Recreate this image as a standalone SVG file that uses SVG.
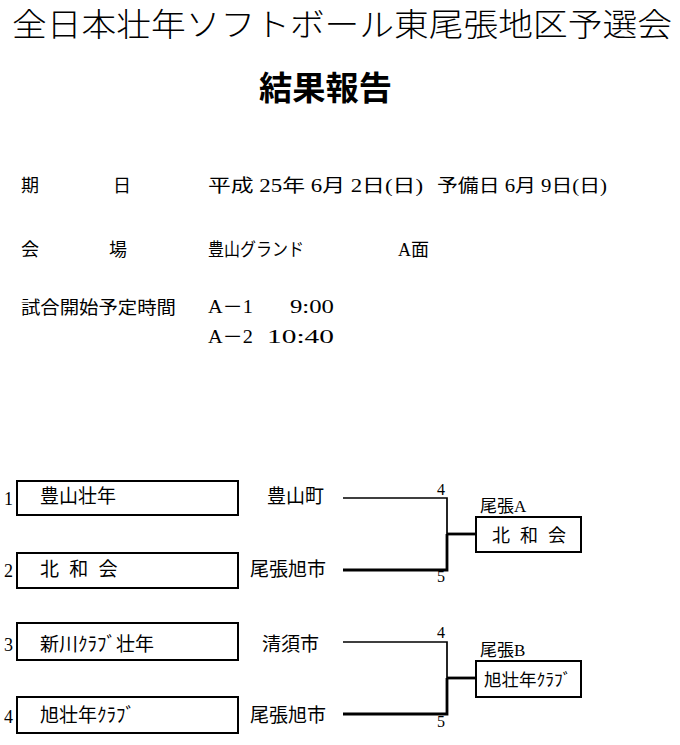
<svg xmlns="http://www.w3.org/2000/svg" width="680" height="745" viewBox="0 0 680 745">
<style>
text{font-family:'Liberation Serif','Noto Sans CJK JP',serif;fill:#000}
.jp{font-family:'Noto Sans CJK JP',sans-serif}
.inf{font-size:18px}
.bx{fill:#fff;stroke:#000;stroke-width:2}
.t19{font-size:19px}
.num{font-size:18px}
.sm{font-size:16px}
.thin{stroke:#000;stroke-width:1.7;fill:none}
.thick{stroke:#000;stroke-width:2.8;fill:none}
</style>
<rect width="680" height="745" fill="#fff"/>
<g id="title">
<text class="jp" x="12" y="36" font-size="32" font-weight="300" textLength="660" lengthAdjust="spacingAndGlyphs">全日本壮年ソフトボール東尾張地区予選会</text>
<text class="jp" x="259" y="100" font-size="33" font-weight="bold" textLength="133" lengthAdjust="spacingAndGlyphs">結果報告</text>
</g>
<g id="info">
<text class="jp inf" x="21" y="192">期</text>
<text class="jp inf" x="113" y="192">日</text>
<text class="inf" x="208" y="192" textLength="215" lengthAdjust="spacingAndGlyphs">平成 25年 6月 2日(日)</text>
<text class="inf" x="437" y="192" textLength="170" lengthAdjust="spacingAndGlyphs">予備日 6月 9日(日)</text>
<text class="jp inf" x="21" y="256">会</text>
<text class="jp inf" x="109" y="256">場</text>
<text class="jp inf" x="208" y="256" textLength="96" lengthAdjust="spacingAndGlyphs">豊山グランド</text>
<text class="inf" x="398" y="256">A面</text>
<text class="jp inf" x="21" y="314" textLength="155" lengthAdjust="spacingAndGlyphs">試合開始予定時間</text>
<text class="inf" x="208" y="313" textLength="45" lengthAdjust="spacingAndGlyphs">A－1</text>
<text class="inf" x="290" y="313" textLength="44" lengthAdjust="spacingAndGlyphs">9:00</text>
<text class="inf" x="208" y="343" textLength="45" lengthAdjust="spacingAndGlyphs">A－2</text>
<text class="inf" x="267" y="343" textLength="67" lengthAdjust="spacingAndGlyphs">10:40</text>
</g>
<g id="connectors">
<path class="thin" d="M343 498H447V535"/>
<path class="thick" d="M343 570H447V534"/>
<path class="thick" d="M447 534H476" stroke-width="2.3"/>
<path class="thin" d="M343 642H447V679"/>
<path class="thick" d="M343 714H447V678"/>
<path class="thick" d="M447 678H476" stroke-width="2.3"/>
</g>
<g id="team1">
<text class="num" x="4" y="505">1</text>
<rect class="bx" x="17" y="481" width="221" height="34"/>
<text class="jp t19" x="40" y="503">豊山壮年</text>
<text class="jp t19" x="267" y="503">豊山町</text>
</g>
<g id="team2">
<text class="num" x="4" y="577">2</text>
<rect class="bx" x="17" y="553" width="221" height="35"/>
<text class="jp t19" x="40" y="576" word-spacing="6">北 和 会</text>
<text class="jp t19" x="250" y="576">尾張旭市</text>
</g>
<g id="team3">
<text class="num" x="4" y="651">3</text>
<rect class="bx" x="17" y="623" width="221" height="37"/>
<text class="jp t19" x="40" y="651">新川ｸﾗﾌﾞ壮年</text>
<text class="jp t19" x="262" y="651">清須市</text>
</g>
<g id="team4">
<text class="num" x="4" y="723">4</text>
<rect class="bx" x="17" y="697" width="221" height="36"/>
<text class="jp t19" x="40" y="722">旭壮年ｸﾗﾌﾞ</text>
<text class="jp t19" x="250" y="722">尾張旭市</text>
</g>
<g id="matchA">
<text class="sm" x="437" y="495">4</text>
<text class="sm" x="437" y="582">5</text>
<text x="480" y="512" font-size="17">尾張A</text>
<rect class="bx" x="476" y="517" width="105" height="35"/>
<text class="jp" x="492" y="542" font-size="18" word-spacing="6">北 和 会</text>
</g>
<g id="matchB">
<text class="sm" x="437" y="638">4</text>
<text class="sm" x="437" y="727">5</text>
<text x="480" y="656" font-size="17">尾張B</text>
<rect class="bx" x="476" y="661" width="105" height="36"/>
<text class="jp" x="484" y="686" font-size="17.5">旭壮年ｸﾗﾌﾞ</text>
</g>
</svg>
